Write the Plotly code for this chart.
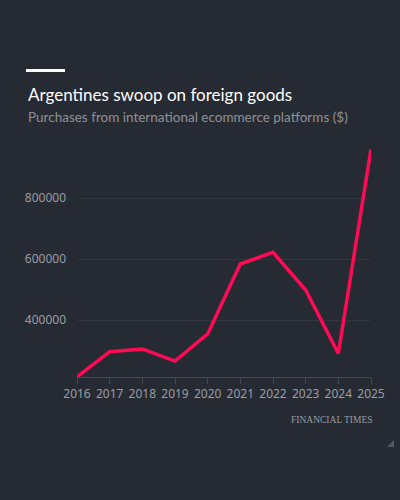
import plotly.graph_objects as go

# --- DATA ---
years = [2016, 2017, 2018, 2019, 2020, 2021, 2022, 2023, 2024, 2025]
purchases = [214000, 297000, 306000, 266000, 355000, 584000, 622000, 499000, 291000, 960000]
y_ticks = [400000, 600000, 800000]

BG = '#262a33'
GRAY = '#9b9da3'
FONT = 'Noto Sans'
HEAD_FONT = 'Lato'

# plot area in pixels: left 77, right 371, top 137, bottom 377
L, R, T, B = 77, 371, 137, 377
W, H = R - L, B - T


def px(x):
    return (x - L) / W


def py(y):
    return (B - y) / H


fig = go.Figure()
fig.add_trace(go.Scatter(
    x=years, y=purchases, mode='lines',
    line=dict(color='#ff0a54', width=3.5),
    hoverinfo='skip', showlegend=False,
))

fig.update_layout(
    width=400, height=500,
    paper_bgcolor=BG, plot_bgcolor=BG,
    margin=dict(l=L, r=400 - R, t=T, b=500 - B),
    font=dict(family=FONT, color=GRAY, size=12),
    xaxis=dict(
        range=[2016, 2025], tickvals=years, ticktext=[str(y) for y in years],
        showgrid=False, zeroline=False,
        showline=True, linecolor='#44474f', linewidth=1,
        ticks='outside', ticklen=6, tickcolor='#44474f',
        tickfont=dict(size=12, color=GRAY),
    ),
    yaxis=dict(
        range=[214000, 1000000], tickvals=y_ticks, ticktext=[str(v) for v in y_ticks],
        showgrid=True, gridcolor='#31353e', gridwidth=1, zeroline=False,
        showline=False, ticks='', ticklabelstandoff=10,
        tickfont=dict(size=12, color=GRAY),
    ),
    shapes=[
        dict(type='line', xref='paper', yref='paper',
             x0=px(26), x1=px(65), y0=py(70.5), y1=py(70.5),
             line=dict(color='white', width=3)),
        dict(type='path', xref='paper', yref='paper',
             path='M {a},{b} L {c},{b} L {c},{d} Z'.format(
                 a=px(387), b=py(447), c=px(394), d=py(440)),
             fillcolor='#55585f', line=dict(width=0)),
    ],
    annotations=[
        dict(text='Argentines swoop on foreign goods', xref='paper', yref='paper',
             x=px(26), y=py(95), xanchor='left', yanchor='middle',
             showarrow=False, font=dict(family=HEAD_FONT, size=17, color='#ffffff')),
        dict(text='Purchases from international ecommerce platforms ($)',
             xref='paper', yref='paper',
             x=px(26), y=py(117), xanchor='left', yanchor='middle',
             showarrow=False, font=dict(family=HEAD_FONT, size=13.5, color='#8f9197')),
        dict(text='FINANCIAL TIMES', xref='paper', yref='paper',
             x=px(375), y=py(420), xanchor='right', yanchor='middle',
             showarrow=False, font=dict(family='Liberation Serif', size=9.5, color='#9a9ba0')),
    ],
)

fig.write_html("out.html", config={'displayModeBar': False},
               post_script="document.body.style.margin='0';")
